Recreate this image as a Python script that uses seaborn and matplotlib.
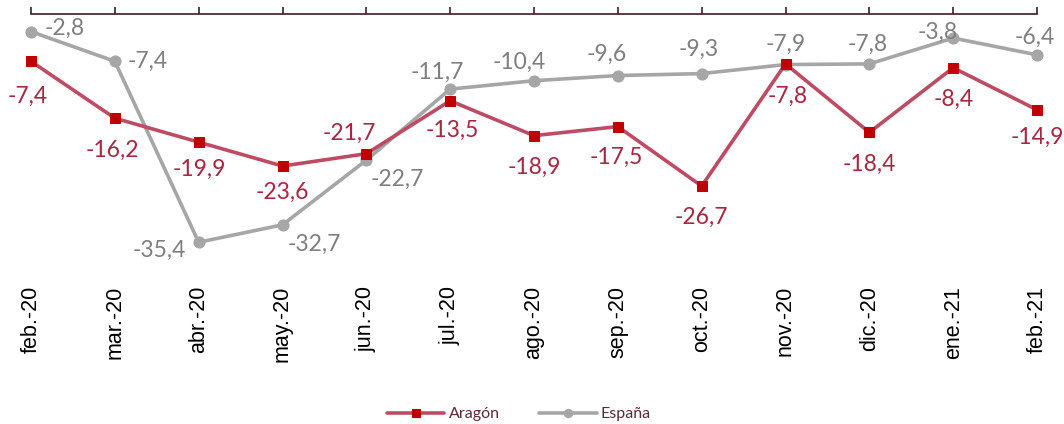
import matplotlib
matplotlib.use("Agg")
import matplotlib.pyplot as plt
from matplotlib import font_manager as fm
import seaborn as sns
import pandas as pd
import numpy as np

months = ["feb.-20", "mar.-20", "abr.-20", "may.-20", "jun.-20", "jul.-20", "ago.-20",
          "sep.-20", "oct.-20", "nov.-20", "dic.-20", "ene.-21", "feb.-21"]
aragon = [-7.4, -16.2, -19.9, -23.6, -21.7, -13.5, -18.9, -17.5, -26.7, -7.8, -18.4, -8.4, -14.9]
espana = [-2.8, -7.4, -35.4, -32.7, -22.7, -11.7, -10.4, -9.6, -9.3, -7.9, -7.8, -3.8, -6.4]

# label offsets in pixels (dx, dy with y pointing down)
arag_off = [(-3, 35), (-2, 32), (1, 27), (0, 26), (-17, -20), (2, 30), (0, 32), (-2, 31),
            (0, 31), (2, 32), (0, 32), (1, 32), (0, 28)]
esp_off = [(34, -3), (33, 0), (-39, 8), (32, 20), (31, 19), (-13, -17), (-15, -18), (-11, -21),
           (-3, -24), (0, -20), (-2, -20), (-15, -6), (-2, -18)]

sns.set_theme(style="white")
plt.rcParams['font.family'] = ['Liberation Sans', 'DejaVu Sans']

arial_path = fm.findfont(fm.FontProperties(family="Liberation Sans"))
lato_path = fm.findfont(fm.FontProperties(family="Lato"))
fp_tick = fm.FontProperties(fname=arial_path, size=15.5)
fp_lab = fm.FontProperties(fname=lato_path, size=16.5)
fp_leg = fm.FontProperties(fname=lato_path, size=11.5)

fig = plt.figure(figsize=(10.64, 4.24), dpi=100)
ax = fig.add_axes([31/1064, 1 - 272/424, 1006/1064, (272-13.5)/424])

x = np.arange(len(months))
df = pd.DataFrame({"x": x, "Aragón": aragon, "España": espana})

c_ar_line = "#BE4B64"
c_ar_mark = "#C00000"
c_ar_text = "#A8263F"
c_es_line = "#A6A6A6"
c_es_text = "#7F7F7F"

sns.lineplot(data=df, x="x", y="Aragón", ax=ax, color=c_ar_line, lw=2.6, marker="s",
             markersize=7.5, markerfacecolor=c_ar_mark, markeredgecolor=c_ar_mark,
             label="Aragón", zorder=3)
sns.lineplot(data=df, x="x", y="España", ax=ax, color=c_es_line, lw=2.6, marker="o",
             markersize=8, markerfacecolor=c_es_line, markeredgecolor=c_es_line,
             label="España", zorder=2)
for ln in ax.lines:
    ln.set_clip_on(False)

def fmt(v):
    return f"{v:.1f}".replace(".", ",")

for i, v in enumerate(aragon):
    dx, dy = arag_off[i]
    ax.annotate(fmt(v), (x[i], v), xytext=(dx * 0.72, -dy * 0.72), textcoords="offset points",
                ha="center", va="center", fontproperties=fp_lab, color=c_ar_text, zorder=5)
for i, v in enumerate(espana):
    dx, dy = esp_off[i]
    ax.annotate(fmt(v), (x[i], v), xytext=(dx * 0.72, -dy * 0.72), textcoords="offset points",
                ha="center", va="center", fontproperties=fp_lab, color=c_es_text, zorder=5)

ax.set_xlim(0, 12)
ax.set_ylim(-40, 0)
ax.set_yticks([])
ax.set_xlabel("")
ax.set_ylabel("")
for s in ["left", "right", "bottom"]:
    ax.spines[s].set_visible(False)
ax.spines["top"].set_visible(True)
ax.spines["top"].set_color("#3B1F25")
ax.spines["top"].set_linewidth(1.2)
ax.set_xticks(x)
ax.set_xticklabels(months, rotation=90, color="black", fontproperties=fp_tick)
ax.tick_params(axis="x", which="both", top=True, bottom=False, labeltop=False,
               labelbottom=True, direction="out", length=5, width=1.2, color="#3B1F25", pad=5)

leg = ax.legend(loc="center", bbox_to_anchor=(519/1064, 1 - 414/424), bbox_transform=fig.transFigure,
                ncol=2, frameon=False, prop=fp_leg,
                handlelength=3.6, columnspacing=2.5, handletextpad=0.25, markerscale=0.75)
for t in leg.get_texts():
    t.set_color("#5A2A36")

fig.savefig("out.png", dpi=100)
